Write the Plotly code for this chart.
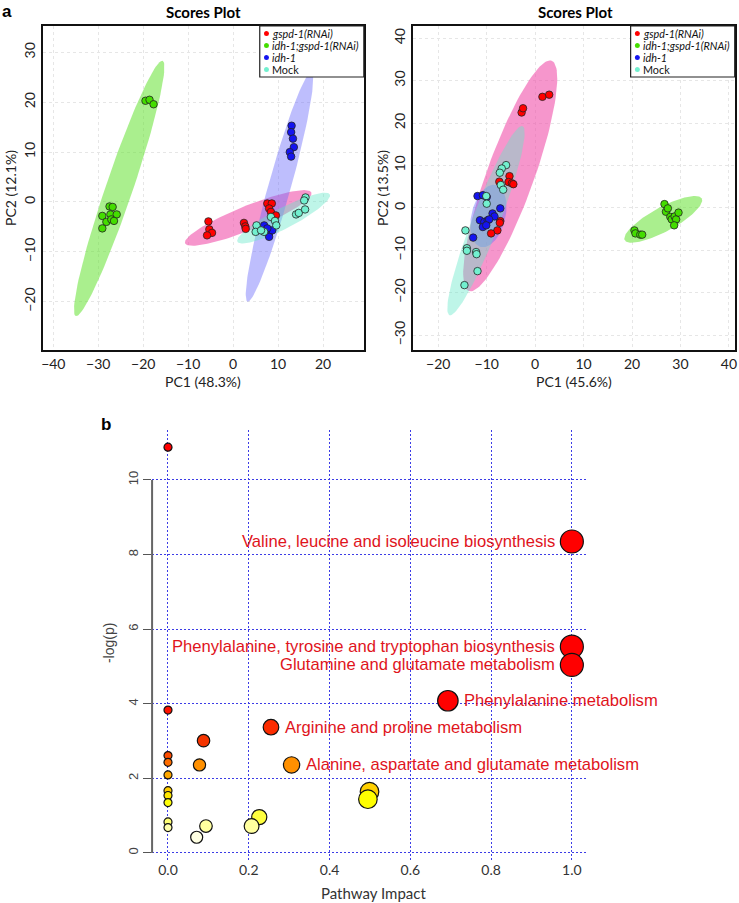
import numpy as np
import plotly.graph_objects as go

W, H = 739, 903

# ---------------- data: PCA scores (panel a) ----------------
groups = ["gspd-1(RNAi)", "idh-1;gspd-1(RNAi)", "idh-1", "Mock"]
group_italic = [True, True, True, False]

# left plot (PC1 48.3%, PC2 12.1%)
left_gspd_x = [-5.5, -5.3, -4.7, -5.8, 2.4, 2.7, 2.8, 7.6, 8.6, 8.0, 8.4, 9.5]
left_gspd_y = [-3.9, -5.5, -6.2, -6.7, -4.2, -4.9, -5.4, -0.3, -0.3, -1.3, -2.0, -2.7]
left_double_x = [-19.5, -18.6, -17.7, -27.5, -26.8, -29.1, -27.3, -25.9, -28.2, -27.1, -29.1, -26.5]
left_double_y = [20.3, 20.5, 19.6, -0.9, -1.0, -2.8, -2.5, -2.5, -4.0, -3.5, -5.3, -3.8]
left_idh_x = [13.0, 12.9, 13.3, 13.5, 12.6, 12.9, 6.9, 8.0, 8.7, 8.0, 7.6]
left_idh_y = [15.3, 14.0, 12.7, 11.0, 10.0, 9.1, -4.7, -6.3, -5.7, -7.0, -5.3]
left_mock_x = [16.1, 14.0, 14.6, 16.0, 15.8, 5.2, 5.0, 6.9, 8.4, 9.3, 9.6, 6.2]
left_mock_y = [0.9, -2.5, -2.2, -1.5, 0.3, -4.7, -6.0, -6.0, -3.0, -3.8, -4.7, -5.7]

# right plot (PC1 45.6%, PC2 13.5%)
right_gspd_x = [1.5, 2.9, -2.8, -2.5, -7.4, -5.3, -5.5, -4.8, -4.5, -7.2, -7.3, -7.8, -9.1]
right_gspd_y = [26.2, 26.7, 22.5, 23.5, 6.2, 7.5, 6.1, 5.8, 5.6, -3.1, -3.5, -5.3, -6.0]
right_double_x = [20.5, 20.7, 21.7, 22.1, 26.7, 27.0, 27.4, 27.9, 28.2, 28.8, 29.1, 29.6, 28.7]
right_double_y = [-5.3, -6.0, -6.3, -6.3, 0.9, -0.9, -0.1, -2.1, -2.7, -2.0, -2.7, -1.1, -4.1]
right_idh_x = [-11.9, -10.8, -10.0, -7.2, -8.8, -8.4, -11.4, -10.5, -9.8, -9.5, -10.8, -12.8, -10.1]
right_idh_y = [2.8, 3.0, 2.6, -0.1, -1.3, -2.0, -2.9, -3.3, -2.9, -2.7, -4.5, -7.0, -4.1]
right_mock_x = [-6.0, -6.9, -7.3, -7.1, -6.6, -10.1, -10.0, -14.4, -14.1, -14.1, -12.2, -12.1, -11.9, -14.6]
right_mock_y = [10.1, 9.3, 8.3, 5.4, 4.3, 2.8, 1.0, -5.3, -9.5, -10.1, -10.4, -10.9, -14.9, -18.2]

# confidence ellipses: major-axis end points and minor half-width (PC1 units)
left_ellipses = [((-10.7, -8.3), (17.4, 1.9), 2.7),
                 ((-15.7, 28.3), (-35.0, -22.9), 3.0),
                 ((17.4, 26.0), (3.2, -20.0), 2.5),
                 ((0.95, -8.0), (21.5, 1.5), 2.3)]
right_ellipses = [((3.4, 34.7), (-13.7, -19.6), 4.9),
                  ((18.5, -7.6), (34.4, 2.2), 2.5),
                  ((-8.1, 5.4), (-11.2, -9.2), 3.5),
                  ((-2.6, 19.3), (-17.7, -25.3), 2.8)]

pc_labels_left = ("PC1 (48.3%)", "PC2 (12.1%)")
pc_labels_right = ("PC1 (45.6%)", "PC2 (13.5%)")

# ---------------- data: pathway analysis (panel b) ----------------
pathway_impact = [0.0, 1.0, 1.0, 1.0, 0.693, 0.0, 0.255, 0.088, 0.0, 0.0, 0.306, 0.078,
                  0.0, 0.0, 0.499, 0.0, 0.495, 0.0, 0.226, 0.0, 0.094, 0.207, 0.0, 0.071]
pathway_neglogp = [10.88, 8.35, 5.53, 5.04, 4.08, 3.83, 3.37, 3.01, 2.61, 2.43, 2.36, 2.36,
                   2.09, 1.67, 1.64, 1.54, 1.44, 1.35, 0.96, 0.83, 0.72, 0.72, 0.68, 0.42]
pathway_names = ["", "Valine, leucine and isoleucine biosynthesis",
                 "Phenylalanine, tyrosine and tryptophan biosynthesis",
                 "Glutamine and glutamate metabolism", "Phenylalanine metabolism", "",
                 "Arginine and proline metabolism", "", "", "",
                 "Alanine, aspartate and glutamate metabolism", "",
                 "", "", "", "", "", "", "", "", "", "", "", ""]
impact_ticks = [0.0, 0.2, 0.4, 0.6, 0.8, 1.0]
logp_ticks = [0, 2, 4, 6, 8, 10]

# ---------------- styles ----------------
point_colors = ["#ff0000", "#44dd00", "#1414f0", "#72f0cf"]
ellipse_colors = ["rgba(240,80,170,0.6)", "rgba(100,225,50,0.55)",
                  "rgba(110,110,250,0.45)", "rgba(100,230,200,0.42)"]

px = lambda v: v / W
py = lambda v: 1 - v / H

L_dom_x = [41.7 / W, 364 / W]
R_dom_x = [413.3 / W, 736.7 / W]
T_dom_y = [py(350), py(26)]
B_dom_x = [151.7 / W, 589 / W]
B_dom_y = [py(860), py(430)]

L_xr, L_yr = [-42.4, 29.0], [-29.7, 35.3]
R_xr, R_yr = [-25.3, 41.2], [-33.5, 42.9]


def ellipse(p1, p2, b, xr, yr, domx, domy, n=120):
    # aspect: pixels per y-unit relative to pixels per x-unit
    sx = (domx[1] - domx[0]) * W / (xr[1] - xr[0])
    sy = (domy[1] - domy[0]) * H / (yr[1] - yr[0])
    r = sy / sx
    P1 = np.array([p1[0], p1[1] * r])
    P2 = np.array([p2[0], p2[1] * r])
    c = (P1 + P2) / 2
    u = (P2 - P1) / 2
    a = np.linalg.norm(u)
    e = u / a
    nrm = np.array([-e[1], e[0]])
    t = np.linspace(0, 2 * np.pi, n)
    pts = c[None, :] + a * np.cos(t)[:, None] * e[None, :] + b * np.sin(t)[:, None] * nrm[None, :]
    return pts[:, 0], pts[:, 1] / r


fig = go.Figure()

panels = [
    ("x", "y", L_xr, L_yr, L_dom_x, left_ellipses,
     [(left_gspd_x, left_gspd_y), (left_double_x, left_double_y),
      (left_idh_x, left_idh_y), (left_mock_x, left_mock_y)]),
    ("x2", "y2", R_xr, R_yr, R_dom_x, right_ellipses,
     [(right_gspd_x, right_gspd_y), (right_double_x, right_double_y),
      (right_idh_x, right_idh_y), (right_mock_x, right_mock_y)]),
]

for xa, ya, xr, yr, domx, ells, pts in panels:
    for i, (p1, p2, b) in enumerate(ells):
        ex, ey = ellipse(p1, p2, b, xr, yr, domx, T_dom_y)
        fig.add_trace(go.Scatter(x=ex, y=ey, mode="lines", fill="toself",
                                 fillcolor=ellipse_colors[i], line=dict(width=0),
                                 hoverinfo="skip", showlegend=False, xaxis=xa, yaxis=ya))
    for i, (gx, gy) in enumerate(pts):
        fig.add_trace(go.Scatter(x=gx, y=gy, mode="markers", name=groups[i],
                                 marker=dict(size=7.5, color=point_colors[i],
                                             line=dict(color="#222222", width=0.8)),
                                 showlegend=False, xaxis=xa, yaxis=ya))

# pathway bubbles
heat_scale = [[0.0, "#ffffe6"], [0.08, "#ffffa8"], [0.12, "#ffff70"], [0.16, "#ffff30"],
              [0.28, "#ffff00"], [0.335, "#ffd000"], [0.46, "#ffa500"], [0.53, "#ff9000"],
              [0.55, "#ff6a00"], [0.60, "#ff4a00"], [0.70, "#f53500"], [0.85, "#ff2800"],
              [1.0, "#ff0000"]]
bubble_size = [8 + 15 * np.sqrt(v) for v in pathway_impact]
fig.add_trace(go.Scatter(x=pathway_impact, y=pathway_neglogp, mode="markers",
                         marker=dict(size=bubble_size, color=pathway_neglogp,
                                     colorscale=heat_scale, cmin=0.4, cmax=4.1,
                                     line=dict(color="#111111", width=1.2), opacity=1),
                         text=pathway_names, showlegend=False, xaxis="x3", yaxis="y3"))

tick_font = dict(family="Lato", size=14, color="#222222")
common_top = dict(showline=True, mirror=True, linecolor="#111111", linewidth=1.5,
                  showgrid=True, gridcolor="#e6e6e6", griddash="dot", gridwidth=1,
                  zeroline=False, ticks="", tickfont=tick_font)
grid_b = dict(showgrid=True, gridcolor="#3c3ce6", griddash="2px,2px", gridwidth=1.1,
              showline=False, zeroline=False)

fig.update_layout(
    width=W, height=H, margin=dict(l=0, r=0, t=0, b=0),
    paper_bgcolor="white", plot_bgcolor="white", showlegend=False,
    xaxis=dict(domain=L_dom_x, range=L_xr, tickvals=[-40, -30, -20, -10, 0, 10, 20],
               anchor="y", **common_top),
    yaxis=dict(domain=T_dom_y, range=L_yr, tickvals=[-20, -10, 0, 10, 20, 30],
               tickangle=-90, anchor="x", **common_top),
    xaxis2=dict(domain=R_dom_x, range=R_xr, tickvals=[-20, -10, 0, 10, 20, 30, 40],
                anchor="y2", **common_top),
    yaxis2=dict(domain=T_dom_y, range=R_yr, tickvals=[-30, -20, -10, 0, 10, 20, 30, 40],
                tickangle=-90, anchor="x2", **common_top),
    xaxis3=dict(domain=B_dom_x, range=[-0.0394, 1.039], tickvals=impact_ticks,
                ticktext=["%.1f" % v for v in impact_ticks], anchor="y3", ticks="",
                tickfont=dict(family="Lato", size=14, color="#333333"), **grid_b),
    yaxis3=dict(domain=B_dom_y, range=[-0.19, 11.34], tickvals=logp_ticks, anchor="x3",
                ticks="outside", ticklen=8, tickcolor="#555555", tickwidth=1, tickangle=-90,
                tickfont=dict(family="Liberation Sans", size=13, color="#444444"), **grid_b),
)

shapes = []
# y axis line for panel b (drawn from 0 to 10 like R)
shapes.append(dict(type="line", xref="x3 domain", yref="y3", x0=0, x1=0,
                   y0=logp_ticks[0], y1=logp_ticks[-1],
                   line=dict(color="#666666", width=2)))

ann = []


def pa(text, x, y, size, family="Lato", color="#222222", angle=0, xanchor="center"):
    return dict(text=text, x=px(x), y=py(y), xref="paper", yref="paper",
                xanchor=xanchor, yanchor="middle", textangle=angle, showarrow=False,
                font=dict(family=family, size=size, color=color))


# panel letters
ann.append(pa("<b>a</b>", 6, 12, 17, "Liberation Sans", "black"))
ann.append(pa("<b>b</b>", 105, 424, 17, "Liberation Sans", "black"))
# titles
for cx in (203, 577):
    ann.append(pa("<b>Scores Plot</b>", cx, 12, 15, "Lato", "black"))
# axis titles top
for (lx, ly), cx, ycx in ((pc_labels_left, 203, 10), (pc_labels_right, 575, 383.5)):
    ann.append(pa(lx, cx, 382, 14))
    ann.append(pa(ly, ycx, 188, 14, angle=-90))
# axis titles bottom
ann.append(pa("Pathway Impact", 374, 893, 15, "Lato", "#333333"))
ann.append(pa("-log(p)", 108.5, 643, 14, "Liberation Sans", "#444444", angle=-90))

# legends (box, dots, labels) at top-right corner of each scores plot
for x_right in (364.3, 736.7):
    x_left = x_right - 104.5
    shapes.append(dict(type="rect", xref="paper", yref="paper",
                       x0=px(x_left), x1=px(x_right), y0=py(77), y1=py(26),
                       line=dict(color="#222222", width=1.2), fillcolor="white"))
    for k, (g, it, c) in enumerate(zip(groups, group_italic, point_colors)):
        yc = 33.5 + 12 * k
        shapes.append(dict(type="circle", xref="paper", yref="paper",
                           x0=px(x_left + 4.3), x1=px(x_left + 9.3),
                           y0=py(yc + 2.5), y1=py(yc - 2.5),
                           line=dict(width=0), fillcolor=c))
        label = "<i>%s</i>" % g if it else g
        ann.append(dict(text=label, x=px(x_left + 11.5), y=py(yc), xref="paper", yref="paper",
                        xanchor="left", yanchor="middle", showarrow=False, borderpad=0,
                        font=dict(family="Lato", size=10.8, color="#111111")))

# pathway labels
for xi, yi, name, s in zip(pathway_impact, pathway_neglogp, pathway_names, bubble_size):
    if not name:
        continue
    right_side = xi < 0.9
    ann.append(dict(text=name, x=xi, y=yi, xref="x3", yref="y3", showarrow=False,
                    xanchor="left" if right_side else "right", yanchor="middle",
                    xshift=(s / 2 + 4) if right_side else -(s / 2 + 3),
                    font=dict(family="Liberation Sans", size=16.6, color="#e0141c")))

fig.update_layout(annotations=ann, shapes=shapes)
fig.write_html("out.html", config={"displayModeBar": False},
               post_script="document.body.style.margin='0';")
